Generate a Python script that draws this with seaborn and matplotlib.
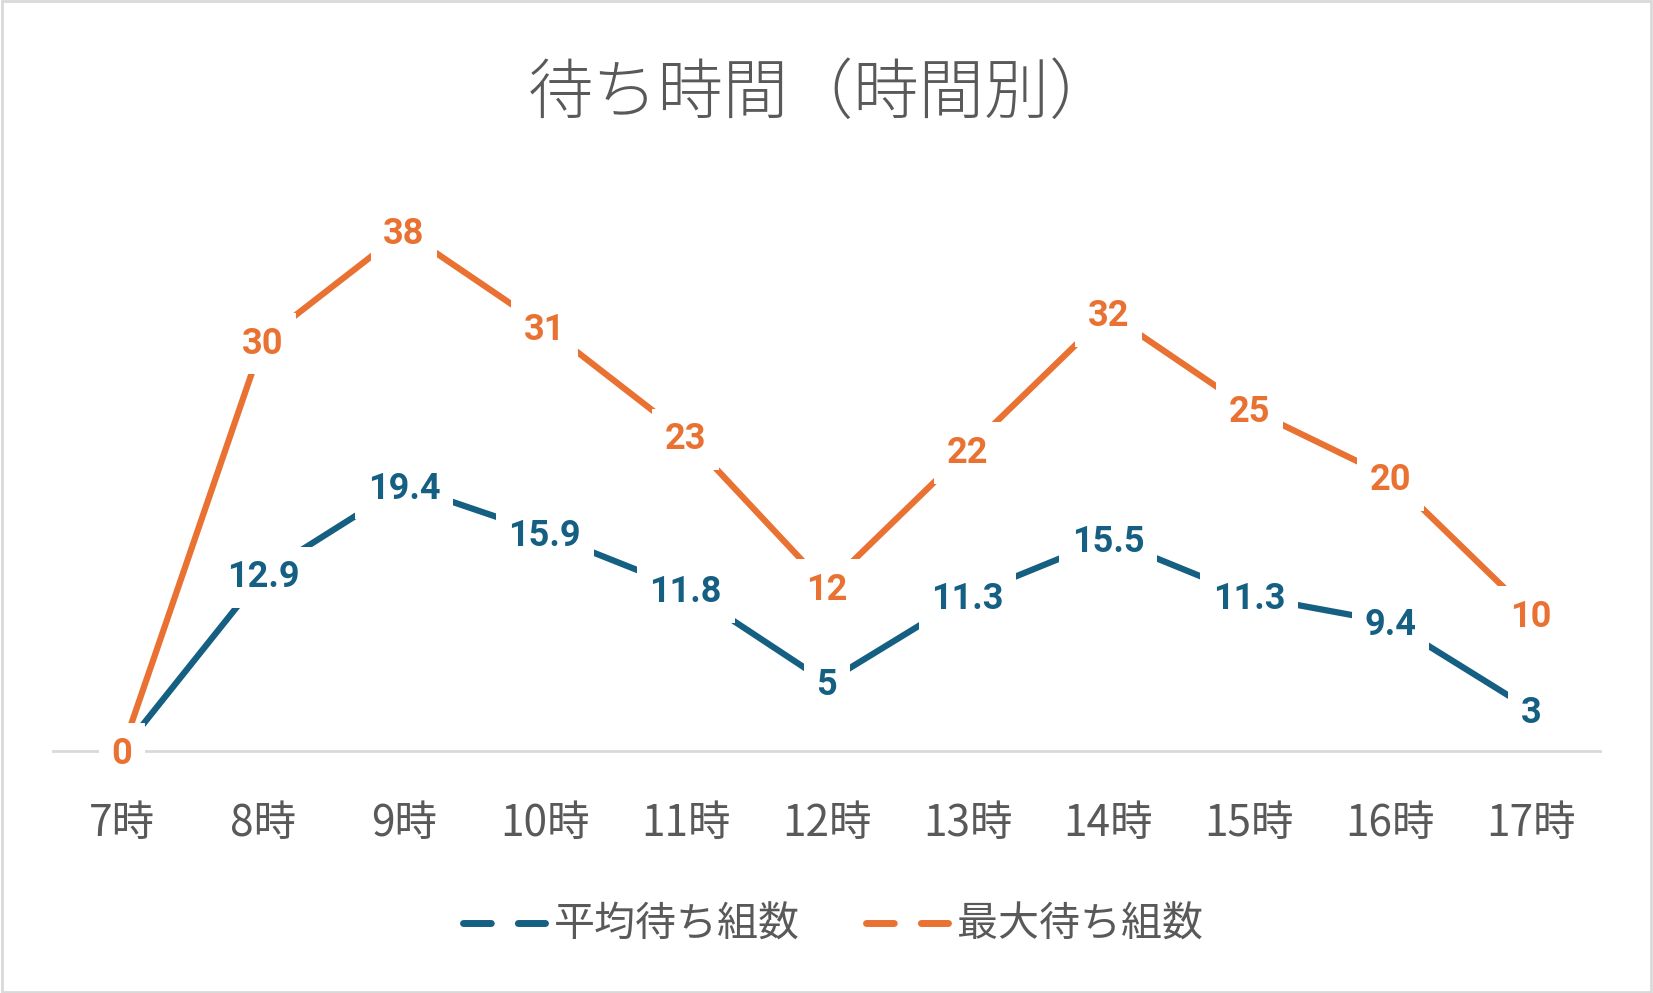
import pandas as pd
import matplotlib.pyplot as plt
import seaborn as sns
from matplotlib.lines import Line2D
from matplotlib.patches import Rectangle

# data
hours = ['7時', '8時', '9時', '10時', '11時', '12時', '13時', '14時', '15時', '16時', '17時']
avg_groups = [0, 12.9, 19.4, 15.9, 11.8, 5, 11.3, 15.5, 11.3, 9.4, 3]
max_groups = [0, 30, 38, 31, 23, 12, 22, 32, 25, 20, 10]
series_names = ['平均待ち組数', '最大待ち組数']
colors = ['#156082', '#E97132']
title = '待ち時間（時間別）'

df = pd.DataFrame({
    '時間': hours * 2,
    '組数': avg_groups + max_groups,
    '系列': [series_names[0]] * len(hours) + [series_names[1]] * len(hours),
})

sns.set_theme(style='white')
plt.rcParams['font.family'] = ['Noto Sans CJK JP', 'DejaVu Sans']
gray = '#595959'

fig = plt.figure(figsize=(16.53, 9.93), dpi=100)
ax = fig.add_axes([0.0321, 0.2441, 0.9359, 0.5507])

sns.lineplot(data=df, x='時間', y='組数', hue='系列', palette=colors,
             linewidth=4.5, ax=ax, legend=False, zorder=3)

# data labels centred on the points, white box hides the line behind
for name, vals, c in zip(series_names, [avg_groups, max_groups], colors):
    for i, v in enumerate(vals):
        ax.annotate(f'{v:g}', (i, v), xytext=(0, -9.5), textcoords='offset points',
                    ha='center', va='baseline', fontsize=26, fontweight='bold',
                    family='Roboto', color=c, zorder=5, annotation_clip=False,
                    bbox=dict(boxstyle='square,pad=0.35', fc='white', ec='none'))

ax.set_xlim(-0.49, 10.49)
ax.set_ylim(0, 40)
ax.set_yticks([])
ax.set_xlabel('')
ax.set_ylabel('')
for s in ['left', 'top', 'right']:
    ax.spines[s].set_visible(False)
ax.spines['bottom'].set_color('#D9D9D9')
ax.spines['bottom'].set_linewidth(2)
ax.tick_params(axis='x', length=0, pad=37, labelsize=30.5, labelcolor=gray)

fig.text(0.497, 0.905, title, ha='center', va='center', fontsize=47,
         fontweight='light', color=gray)

# legend keys: two short dashes, like the original
handles = [Line2D([], [], color=c, lw=5, dashes=(4, 3.9), dash_capstyle='round')
           for c in colors]
leg = fig.legend(handles, series_names, loc='center', bbox_to_anchor=(0.504, 0.068),
                 ncol=2, frameon=False, fontsize=29.5, handlelength=2.0,
                 handletextpad=0.22, columnspacing=1.6)
for t in leg.get_texts():
    t.set_color(gray)

fig.patches.append(Rectangle((0.001, 0.001), 0.998, 0.998, transform=fig.transFigure,
                             fill=False, ec='#D9D9D9', lw=2))

fig.savefig('out.png', dpi=100)
